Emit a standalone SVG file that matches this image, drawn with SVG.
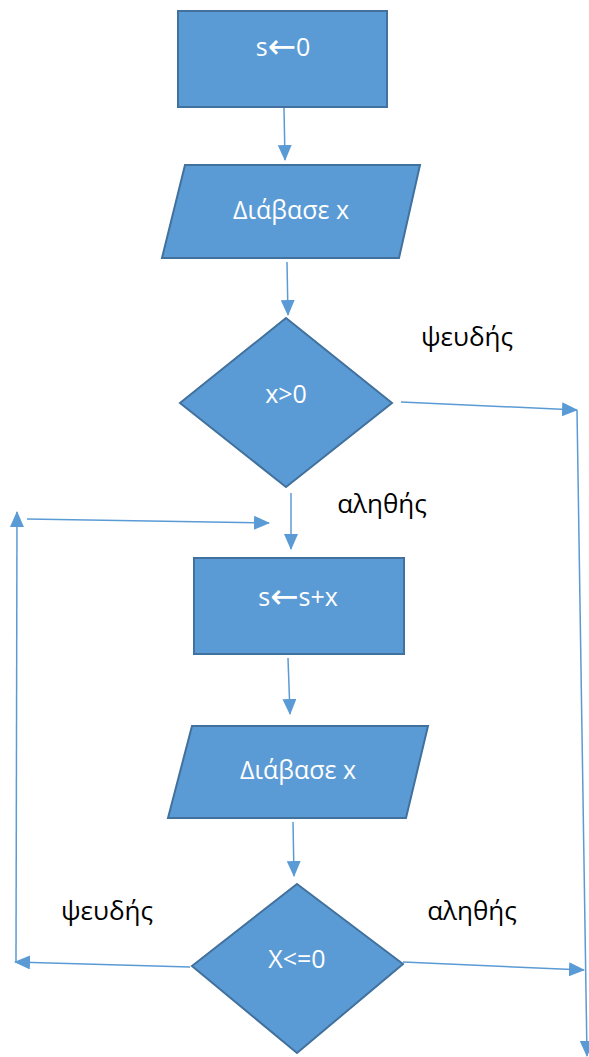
<svg xmlns="http://www.w3.org/2000/svg" width="589" height="1057" viewBox="0 0 589 1057">
<style>
.shape{fill:#5B9BD5;stroke:#41719C;stroke-width:2}
.t{fill:#fff;font-family:"Open Sans","Liberation Sans",sans-serif;font-size:25px;text-anchor:middle}
.lbl{fill:#000;font-family:"Open Sans","Liberation Sans",sans-serif;font-size:26px;text-anchor:middle}
.c{stroke:#5B9BD5;stroke-width:1.5;fill:none}
.ar{font-family:"DejaVu Sans",sans-serif;font-size:34px}
</style>
<defs>
<marker id="ah" markerUnits="userSpaceOnUse" markerWidth="16" markerHeight="14" viewBox="0 0 16 14" refX="15" refY="7" orient="auto">
<path d="M0,0 L16,7 L0,14 Z" fill="#5B9BD5"/>
</marker>
</defs>
<g id="connectors">
<line class="c" x1="284" y1="108" x2="285" y2="160" marker-end="url(#ah)"/>
<line class="c" x1="287" y1="262" x2="288" y2="315" marker-end="url(#ah)"/>
<line class="c" x1="401" y1="402" x2="577" y2="410" marker-end="url(#ah)"/>
<line class="c" x1="577" y1="410" x2="587" y2="1056" marker-end="url(#ah)"/>
<line class="c" x1="291" y1="493" x2="291" y2="549" marker-end="url(#ah)"/>
<line class="c" x1="288" y1="658" x2="290" y2="714" marker-end="url(#ah)"/>
<line class="c" x1="293" y1="822" x2="294" y2="876" marker-end="url(#ah)"/>
<line class="c" x1="190" y1="967" x2="15" y2="962" marker-end="url(#ah)"/>
<line class="c" x1="16" y1="962" x2="17" y2="512" marker-end="url(#ah)"/>
<line class="c" x1="27" y1="519" x2="269" y2="523" marker-end="url(#ah)"/>
<line class="c" x1="403" y1="962" x2="584" y2="970" marker-end="url(#ah)"/>
</g>
<g id="n1">
<rect class="shape" x="178" y="11" width="209" height="96"/>
<text class="t" x="283" y="56">s<tspan class="ar" dy="2">←</tspan><tspan dy="-2">0</tspan></text>
</g>
<g id="n2">
<polygon class="shape" points="185,165 420,165 399,258 162,258"/>
<text class="t" x="291" y="219">Διάβασε x</text>
</g>
<g id="n3">
<polygon class="shape" points="286,318 392,403 286,487 180,403"/>
<text class="t" x="286" y="403">x&gt;0</text>
</g>
<g id="n4">
<rect class="shape" x="194" y="558" width="210" height="96"/>
<text class="t" x="298" y="606">s<tspan class="ar" dy="2">←</tspan><tspan dy="-2">s+x</tspan></text>
</g>
<g id="n5">
<polygon class="shape" points="192,726 428,726 406,818 168,818"/>
<text class="t" x="298" y="779">Διάβασε x</text>
</g>
<g id="n6">
<polygon class="shape" points="297,884 403,964 297,1053 192,966"/>
<text class="t" x="297" y="968">X&lt;=0</text>
</g>
<g id="labels">
<text class="lbl" x="467" y="346">ψευδής</text>
<text class="lbl" x="382" y="513">αληθής</text>
<text class="lbl" x="107" y="920">ψευδής</text>
<text class="lbl" x="472" y="920">αληθής</text>
</g>
</svg>
